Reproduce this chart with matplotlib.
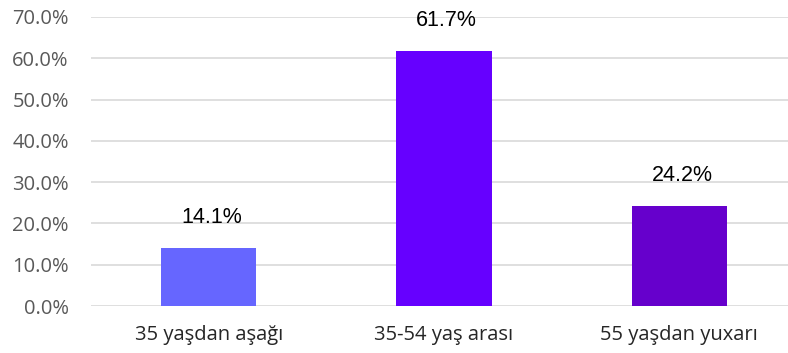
import matplotlib
matplotlib.use('Agg')
import matplotlib.pyplot as plt

categories = ['35 yaşdan aşağı', '35-54 yaş arası', '55 yaşdan yuxarı']
values = [0.141, 0.617, 0.242]
bar_colors = ['#6666FF', '#6600FF', '#6600CC']
y_ticks = [0.0, 0.1, 0.2, 0.3, 0.4, 0.5, 0.6, 0.7]

fig = plt.figure(figsize=(7.88, 3.53), dpi=100)
ax = fig.add_axes([91 / 788, 47 / 353, 697 / 788, 289 / 353])

x = list(range(len(categories)))
bars = ax.bar(x, values, width=0.404, color=bar_colors, zorder=3)

for xi, v in zip(x, values):
    ax.annotate(f'{v * 100:.1f}%', (xi, v), xytext=(2, 22), textcoords='offset points',
                ha='center', va='center', fontsize=15.5, family='Liberation Sans', color='black')

ax.set_xlim(-0.5, 2 + 108.5 / 235)
ax.set_ylim(0, 0.7)
ax.set_yticks(y_ticks)
ax.set_yticklabels([f'{t * 100:.1f}%' for t in y_ticks], fontsize=14.5, family='Open Sans', color='#595959')
ax.set_xticks(x)
ax.set_xticklabels(categories, fontsize=14.5, family='Open Sans', color='#262626')
ax.tick_params(axis='both', length=0)
ax.tick_params(axis='y', pad=16)
ax.tick_params(axis='x', pad=14)

ax.grid(axis='y', color='#D9D9D9', linewidth=1.2, zorder=0)
for s in ax.spines.values():
    s.set_visible(False)

fig.savefig('out.png', dpi=100)
